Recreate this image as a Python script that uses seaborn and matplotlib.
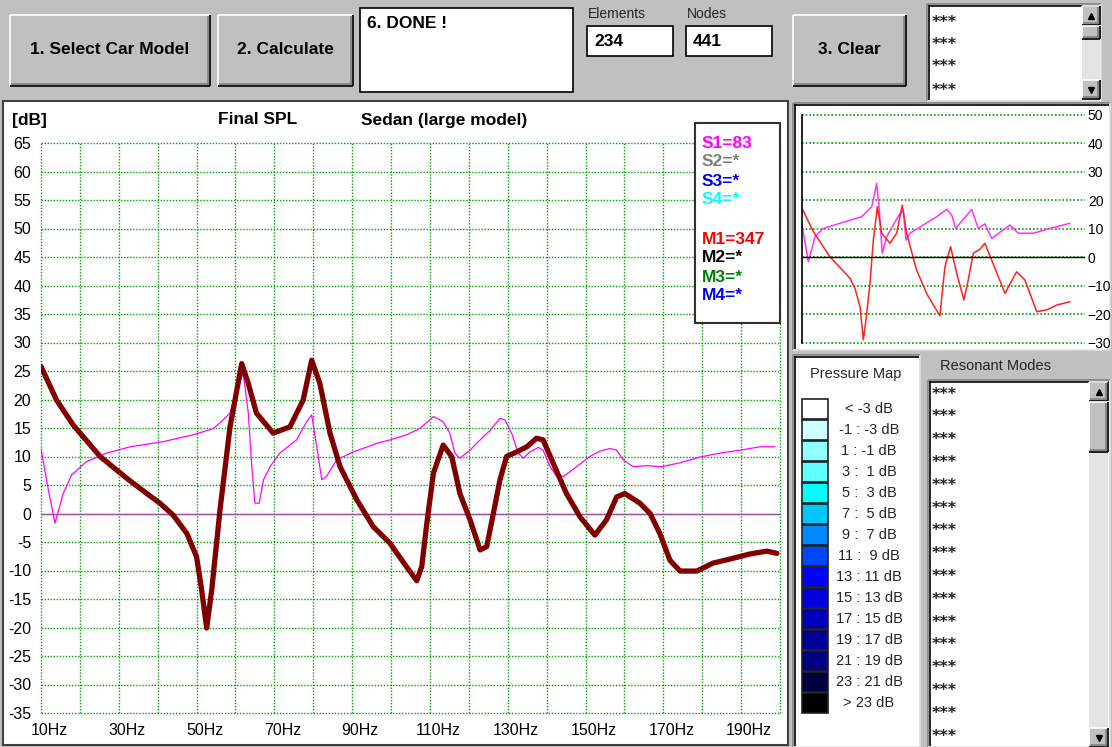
import matplotlib
matplotlib.use("Agg")
import matplotlib.pyplot as plt
from matplotlib.patches import Rectangle
from matplotlib.transforms import ScaledTranslation
import seaborn as sns

# ── data ─────────────────────────────────────────────────────────────────────

# M1 (dark red, main chart)
m1_freq = [10, 14, 18.3, 25.2, 32, 37.2, 40.6, 44, 47.5, 50, 51.3, 52.6, 53.9, 56,
           58.6, 61.6, 63.3, 65.4, 69.7, 74, 77.4, 79.6, 81.7, 84.3, 86.9, 91.2,
           95.4, 99.7, 103.1, 106.6, 107.9, 109.2, 110.9, 113.4, 115.6, 117.7,
           120.3, 122.9, 124.6, 126.3, 128, 129.7, 132.3, 134.9, 137.4, 139.1,
           141.7, 145.1, 148.6, 152.4, 155.4, 158, 160.1, 164, 166.6, 169.1,
           171.7, 174.3, 178.6, 182.8, 187.1, 192.3, 196.6, 199.2]
m1_spl = [25.8, 19.9, 15.5, 10.0, 6.2, 3.5, 1.8, -0.3, -3.5, -7.6, -13.4, -20.1, -13.4, 0.5,
          15.2, 26.3, 22.8, 17.6, 14.1, 15.2, 19.9, 26.9, 22.8, 14.1, 8.2, 2.4,
          -2.3, -5.2, -8.5, -11.8, -9.3, -1.7, 7.1, 12.0, 10.0, 3.5,
          -1.1, -6.4, -5.8, 0.0, 5.9, 10.0, 10.8, 11.7, 13.2, 12.9,
          8.8, 3.5, -0.6, -3.8, -1.1, 2.9, 3.5, 1.8, 0.0, -3.5,
          -8.2, -10.1, -10.1, -8.7, -8.0, -7.1, -6.6, -7.0]

# S1 (magenta, main chart)
s1_freq = [10, 11.9, 13.6, 15.7, 17.9, 21.7, 26.9, 32.9, 41.4, 49.1, 54.3, 56, 58.6,
           60.3, 62.0, 63.3, 64.2, 65.0, 66.1, 67.2, 68.9, 71.4, 75.7, 78.3, 79.6,
           80.9, 82.2, 83.4, 86.0, 90.3, 96.3, 99.7, 104, 107.4, 110.9, 113.4,
           115.1, 116.4, 117.7, 120.3, 122.9, 125.5, 128.0, 129.3, 131.0, 132.7,
           134.0, 135.7, 137.9, 139.1, 140.9, 142.6, 144.3, 147.7, 151.1, 153.5,
           156.3, 158.0, 159.7, 162.3, 165.7, 169.5, 174.3, 179.4, 184.6, 189.7,
           194.8, 198.7]
s1_spl = [11.4, 4.1, -1.7, 3.5, 6.8, 9.1, 10.6, 11.7, 12.6, 13.8, 14.9, 15.9, 17.6,
          21.7, 24.6, 17.6, 8.2, 1.8, 1.8, 5.9, 8.2, 10.6, 12.9, 16.1, 17.3,
          11.7, 5.9, 6.5, 9.4, 10.8, 12.3, 12.9, 13.8, 14.9, 17.0, 16.1,
          14.1, 10.6, 9.7, 11.1, 12.9, 14.6, 16.7, 16.4, 14.1, 10.6,
          9.7, 10.8, 11.6, 11.1, 8.2, 6.5, 6.5, 8.2, 10.0, 10.9,
          11.4, 11.1, 9.4, 8.2, 8.4, 8.2, 8.9, 9.9, 10.6, 11.1,
          11.7, 11.7]

# small preview chart (top right)
red_freq = [10, 17.8, 29.3, 43.2, 46.6, 50.1, 52.4, 54.2, 57.0, 59.3, 62.1, 65.1,
            70.8, 75.4, 79.3, 82.3, 89.2, 96.1, 105.3, 108.8, 112.7, 116.9, 121.9,
            124.9, 128.4, 133.0, 136.4, 141.1, 150.3, 158.3, 164.1, 172.2, 179.1,
            186.0, 195.2]
red_val = [17.3, 9.1, 0.3, -7.3, -10.8, -17.3, -28.9, -21.9, -9.1, 6.1, 17.8, 8.5,
           5.0, 8.5, 18.4, 8.5, -4.4, -12.6, -20.5, -3.2, 3.8, -5.5, -14.9,
           -7.9, 1.5, 2.9, 5.0, -0.9, -12.6, -5.0, -7.9, -19.0, -18.4,
           -16.7, -15.5]
mag_freq = [10, 14.4, 19.0, 24.7, 36.3, 51.2, 58.2, 61.6, 63.4, 65.5, 68.5, 73.1,
            77.7, 80.0, 81.9, 84.6, 93.8, 103.1, 110.0, 113.5, 116.2, 127.3, 131.8,
            136.4, 141.1, 153.7, 159.5, 169.8, 181.4, 195.2]
mag_val = [11.4, -1.5, 7.3, 10.2, 12.0, 14.3, 17.8, 26.0, 16.7, 1.5, 7.3, 11.4,
           15.5, 16.7, 6.1, 8.5, 11.4, 14.3, 16.9, 14.9, 10.2, 16.9, 10.2,
           11.8, 6.7, 11.4, 8.5, 8.5, 10.2, 12.0]

legend_items = ["S1=83", "S2=*", "S3=*", "S4=*", "M1=347", "M2=*", "M3=*", "M4=*"]
legend_colors = ["#ff00ff", "#808080", "#0000ff", "#00ffff",
                 "#ff0000", "#000000", "#008000", "#0000ff"]

pmap_labels = ["< -3 dB", "-1 : -3 dB", "1 : -1 dB", "3 :  1 dB", "5 :  3 dB",
               "7 :  5 dB", "9 :  7 dB", "11 :  9 dB", "13 : 11 dB", "15 : 13 dB",
               "17 : 15 dB", "19 : 17 dB", "21 : 19 dB", "23 : 21 dB", "> 23 dB"]
pmap_colors = ["#ffffff", "#d0ffff", "#90ffff", "#60ffff", "#00ffff",
               "#00c8ff", "#0088ff", "#0048ff", "#0000ff", "#0000dc",
               "#0000b8", "#000098", "#000080", "#000040", "#000000"]

x_ticklabels = ["10Hz", "30Hz", "50Hz", "70Hz", "90Hz",
                "110Hz", "130Hz", "150Hz", "170Hz", "190Hz"]

# ── setup ────────────────────────────────────────────────────────────────────

sns.set_theme(style="white")
plt.rcParams["font.family"] = ["Liberation Sans", "DejaVu Sans"]

W, H = 1112, 747
GRID = "#00a000"
fig = plt.figure(figsize=(W / 100, H / 100), dpi=100)
fig.patch.set_facecolor("#c0c0c0")

bg = fig.add_axes([0, 0, 1, 1], zorder=0)
bg.set_xlim(0, W)
bg.set_ylim(H, 0)
bg.axis("off")

fg = fig.add_axes([0, 0, 1, 1], zorder=5)
fg.set_xlim(0, W)
fg.set_ylim(H, 0)
fg.axis("off")
fg.patch.set_alpha(0)


def box(x0, y0, x1, y1):
    """pixel box -> figure fraction rect"""
    return [x0 / W, 1 - y1 / H, (x1 - x0) / W, (y1 - y0) / H]


def line(ax, xs, ys, c, lw=0.8):
    ax.plot(xs, ys, color=c, lw=lw, solid_capstyle="butt")


def raised(x0, y0, x1, y1, ax=bg):
    ax.add_patch(Rectangle((x0, y0), x1 - x0, y1 - y0, fc="#c0c0c0", ec="none"))
    line(ax, [x0, x1], [y0, y0], "white", 1.2)
    line(ax, [x0, x0], [y0, y1], "white", 1.2)
    line(ax, [x0 + 1, x1 - 1], [y1 - 2, y1 - 2], "#808080", 1.2)
    line(ax, [x1 - 2, x1 - 2], [y0 + 1, y1 - 1], "#808080", 1.2)
    line(ax, [x0, x1], [y1, y1], "black", 1.2)
    line(ax, [x1, x1], [y0, y1], "black", 1.2)


def sunken(x0, y0, x1, y1, fc="white", ax=bg):
    ax.add_patch(Rectangle((x0, y0), x1 - x0, y1 - y0, fc=fc, ec="none"))
    line(ax, [x0, x1], [y0, y0], "#808080", 1.2)
    line(ax, [x0, x0], [y0, y1], "#808080", 1.2)
    line(ax, [x0 + 1, x1 - 1], [y0 + 1.5, y0 + 1.5], "black", 1.2)
    line(ax, [x0 + 1.5, x0 + 1.5], [y0 + 1, y1 - 1], "black", 1.2)
    line(ax, [x0, x1], [y1, y1], "#e0e0e0", 1.2)
    line(ax, [x1, x1], [y0, y1], "#e0e0e0", 1.2)


def scrollbar(x0, x1, y0, y1, thumb_h):
    bg.add_patch(Rectangle((x0, y0), x1 - x0, y1 - y0, fc="#e4e4e4", ec="none"))
    raised(x0, y0, x1, y0 + 19)
    raised(x0, y1 - 19, x1, y1)
    raised(x0, y0 + 20, x1, y0 + 20 + thumb_h)
    bg.plot([(x0 + x1) / 2], [y0 + 10], marker="^", color="black", ms=5)
    bg.plot([(x0 + x1) / 2], [y1 - 9], marker="v", color="black", ms=5)


def stars(x, y):
    bg.text(x, y + 4, "***", ha="left", va="center", fontsize=11.5,
            fontweight="bold", family="DejaVu Sans")


BTN = dict(fontsize=12.5, fontweight="bold", color="black")

# ── top tool bar ─────────────────────────────────────────────────────────────

raised(10, 15, 210, 86)
bg.text(110, 50, "1. Select Car Model", ha="center", va="center", **BTN)
raised(218, 15, 353, 86)
bg.text(285, 50, "2. Calculate", ha="center", va="center", **BTN)

bg.add_patch(Rectangle((360, 8), 213, 84, fc="white", ec="black", lw=1.2))
bg.text(367, 24, "6. DONE !", ha="left", va="center", **BTN)

bg.text(588, 14, "Elements", ha="left", va="center", fontsize=10)
bg.add_patch(Rectangle((587, 26), 86, 30, fc="white", ec="black", lw=1.2))
bg.text(594, 42, "234", ha="left", va="center", **BTN)
bg.text(687, 14, "Nodes", ha="left", va="center", fontsize=10)
bg.add_patch(Rectangle((686, 26), 86, 30, fc="white", ec="black", lw=1.2))
bg.text(693, 42, "441", ha="left", va="center", **BTN)

raised(793, 15, 906, 86)
bg.text(849, 50, "3. Clear", ha="center", va="center", **BTN)

sunken(927, 4, 1101, 101)
for yy in [18, 40, 63, 86]:
    stars(932, yy)
scrollbar(1082, 1100, 6, 99, 13)

# ── panels ───────────────────────────────────────────────────────────────────

bg.add_patch(Rectangle((3, 101), 785, 644, fc="white", ec="#404040", lw=1.5))
bg.text(12, 120, "[dB]", ha="left", va="center", **BTN)
bg.text(218, 120, "Final SPL", ha="left", va="center", **BTN)
bg.text(361, 120, "Sedan (large model)", ha="left", va="center", **BTN)

sunken(793, 103, 1110, 350)
sunken(793, 355, 920, 747)
bg.text(856, 374, "Pressure Map", ha="center", va="center", fontsize=10.5)
for i, (lab, col) in enumerate(zip(pmap_labels, pmap_colors)):
    y0 = 399 + 21 * i
    bg.add_patch(Rectangle((802, y0), 26, 20, fc=col, ec="#202020", lw=1.2))
    bg.text(869, y0 + 10, lab, ha="center", va="center", fontsize=10.5)

bg.text(995, 366, "Resonant Modes", ha="center", va="center", fontsize=10.5)
sunken(928, 380, 1110, 747)
for i in range(16):
    stars(932, 390 + 22.8 * i)
scrollbar(1089, 1108, 382, 747, 50)

# ── main SPL chart ───────────────────────────────────────────────────────────

ax = fig.add_axes(box(41, 143, 780, 713), zorder=2)
ax.patch.set_alpha(0)
ax.axhline(0, color="#a050a0", lw=1.0, zorder=1)
sns.lineplot(x=s1_freq, y=s1_spl, ax=ax, color="#ff00ff", lw=0.9,
             estimator=None, zorder=3)
sns.lineplot(x=m1_freq, y=m1_spl, ax=ax, color="#800000", lw=3.8,
             estimator=None, zorder=4)
ax.set_xlim(10, 200)
ax.set_ylim(-35, 65)
ax.set_xticks(range(10, 201, 10))
ax.set_xticklabels([x_ticklabels[i // 2] if i % 2 == 0 else "" for i in range(20)])
ax.set_yticks(range(-35, 66, 5))
ax.set_yticklabels([str(v) for v in range(-35, 66, 5)])
ax.grid(True, color=GRID, ls=(0, (1, 1.2)), lw=1.0)
ax.tick_params(length=0, labelsize=11.5, colors="black")
ax.tick_params(axis="x", pad=7)
ax.tick_params(axis="y", pad=7)
for s in ax.spines.values():
    s.set_visible(False)
for gl in ax.get_xgridlines() + ax.get_ygridlines():
    gl.set_clip_on(False)
shift = ScaledTranslation(0.08, 0, fig.dpi_scale_trans)
for lab in ax.get_xticklabels():
    lab.set_transform(lab.get_transform() + shift)

# legend box
fg.add_patch(Rectangle((695, 123), 85, 200, fc="white", ec="#303030", lw=1.5))
for i, (txt, col) in enumerate(zip(legend_items, legend_colors)):
    yy = 143 + 19 * i + (20 if i >= 4 else 0)
    fg.text(702, yy, txt, ha="left", va="center", color=col,
            fontsize=12.5, fontweight="bold")

# ── small preview chart ──────────────────────────────────────────────────────

ax2 = fig.add_axes(box(802, 115, 1085, 343), zorder=2)
ax2.patch.set_alpha(0)
sns.lineplot(x=mag_freq, y=mag_val, ax=ax2, color="#ff30ff", lw=1.1, estimator=None)
sns.lineplot(x=red_freq, y=red_val, ax=ax2, color="#ff2020", lw=1.1, estimator=None)
ax2.set_xlim(10, 205.6)
ax2.set_ylim(-30, 50)
ax2.set_xticks([])
ax2.set_yticks(range(-30, 51, 10))
ax2.yaxis.tick_right()
ax2.grid(True, axis="y", color=GRID, ls=(0, (1, 1.2)), lw=1.2)
for gl in ax2.get_ygridlines():
    gl.set_clip_on(False)
ax2.axhline(0, color="black", lw=1.0)
ax2.tick_params(length=0, labelsize=10, pad=2, colors="black")
for k, s in ax2.spines.items():
    s.set_visible(k == "left")
ax2.spines["left"].set_color("black")
ax2.spines["left"].set_linewidth(1.2)

fig.savefig("out.png", dpi=100, facecolor=fig.get_facecolor())
